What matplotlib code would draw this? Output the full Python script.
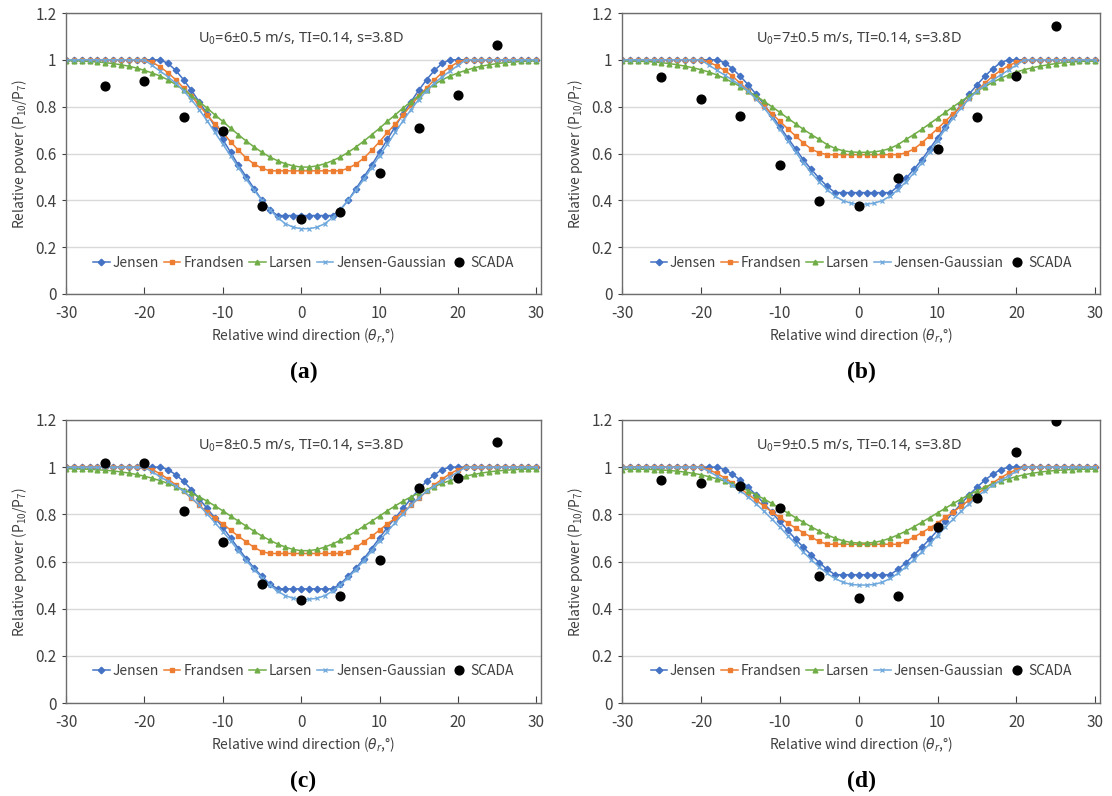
import matplotlib
matplotlib.use('Agg')
import matplotlib.pyplot as plt
from matplotlib.ticker import FormatStrFormatter

plt.rcParams['font.family'] = ['Noto Sans CJK KR', 'DejaVu Sans']
plt.rcParams['mathtext.fontset'] = 'custom'
plt.rcParams['mathtext.rm'] = 'Noto Sans CJK KR'
plt.rcParams['mathtext.it'] = 'DejaVu Sans:italic'
plt.rcParams['axes.unicode_minus'] = False

# relative wind direction (deg), one model point per degree
theta = list(range(-30, 31))
scada_theta = [-25, -20, -15, -10, -5, 0, 5, 10, 15, 20, 25]

# (a) U0 = 6 m/s
jensen_a = [1, 1, 1, 1, 1, 1, 1, 1, 1, 1, 1, 1, 1,
            0.985, 0.955, 0.915, 0.87, 0.82, 0.77, 0.715, 0.66, 0.605, 0.55, 0.50, 0.45, 0.40, 0.36,
            0.335, 0.335, 0.335, 0.335, 0.335, 0.335, 0.335, 0.335,
            0.36, 0.40, 0.45, 0.50, 0.55, 0.605, 0.66, 0.715, 0.77, 0.82, 0.87, 0.915, 0.955, 0.985,
            1, 1, 1, 1, 1, 1, 1, 1, 1, 1, 1, 1]
frandsen_a = [1, 1, 1, 1, 1, 1, 1, 1, 1, 1, 1,
              0.99, 0.97, 0.945, 0.915, 0.88, 0.845, 0.805, 0.765, 0.725, 0.69, 0.65, 0.614, 0.58, 0.555, 0.537,
              0.526, 0.526, 0.526, 0.526, 0.526, 0.526, 0.526, 0.526, 0.526, 0.526,
              0.537, 0.555, 0.58, 0.614, 0.65, 0.69, 0.725, 0.765, 0.805, 0.845, 0.88, 0.915, 0.945, 0.97, 0.99,
              1, 1, 1, 1, 1, 1, 1, 1, 1, 1]
larsen_a = [0.997, 0.996, 0.995, 0.993, 0.991, 0.988, 0.984, 0.979, 0.973, 0.965, 0.955, 0.944, 0.931,
            0.915, 0.895, 0.872, 0.847, 0.821, 0.794, 0.765, 0.737, 0.708, 0.68, 0.653, 0.628, 0.605,
            0.585, 0.569, 0.556, 0.547, 0.542,
            0.542, 0.547, 0.556, 0.569, 0.585, 0.605, 0.628, 0.653, 0.68, 0.708, 0.737, 0.765, 0.794,
            0.821, 0.847, 0.872, 0.895, 0.915, 0.931, 0.944, 0.955, 0.965, 0.973, 0.979, 0.984, 0.988,
            0.991, 0.993, 0.995, 0.996]
jgauss_a = [1, 1, 1, 1, 1, 1, 1, 1, 1, 1, 1,
            0.976, 0.952, 0.928, 0.9, 0.868, 0.83, 0.787, 0.74, 0.69, 0.64, 0.59, 0.54, 0.49, 0.443,
            0.4, 0.36, 0.326, 0.3, 0.285, 0.279,
            0.279, 0.285, 0.3, 0.326, 0.36, 0.4, 0.443, 0.49, 0.54, 0.59, 0.64, 0.69, 0.74, 0.787,
            0.83, 0.868, 0.9, 0.928, 0.952, 0.976,
            1, 1, 1, 1, 1, 1, 1, 1, 1, 1]
scada_a = [0.887, 0.908, 0.758, 0.695, 0.376, 0.322, 0.350, 0.517, 0.709, 0.849, 1.063]

# (b) U0 = 7 m/s
jensen_b = [1, 1, 1, 1, 1, 1, 1, 1, 1, 1, 1, 1, 1,
            0.988, 0.962, 0.93, 0.893, 0.853, 0.81, 0.763, 0.715, 0.667, 0.62, 0.573, 0.532, 0.494, 0.46,
            0.433, 0.433, 0.433, 0.433, 0.433, 0.433, 0.433, 0.433,
            0.46, 0.494, 0.532, 0.573, 0.62, 0.667, 0.715, 0.763, 0.81, 0.853, 0.893, 0.93, 0.962, 0.988,
            1, 1, 1, 1, 1, 1, 1, 1, 1, 1, 1, 1]
frandsen_b = [1, 1, 1, 1, 1, 1, 1, 1, 1, 1, 1,
              0.99, 0.975, 0.955, 0.93, 0.9, 0.868, 0.835, 0.802, 0.77, 0.738, 0.706, 0.675, 0.645, 0.619, 0.603,
              0.595, 0.595, 0.595, 0.595, 0.595, 0.595, 0.595, 0.595, 0.595, 0.595,
              0.603, 0.619, 0.645, 0.675, 0.706, 0.738, 0.77, 0.802, 0.835, 0.868, 0.9, 0.93, 0.955, 0.975, 0.99,
              1, 1, 1, 1, 1, 1, 1, 1, 1, 1]
larsen_b = [0.995, 0.995, 0.994, 0.993, 0.991, 0.988, 0.984, 0.979, 0.973, 0.966, 0.958, 0.948, 0.936,
            0.921, 0.904, 0.886, 0.866, 0.845, 0.823, 0.8, 0.776, 0.751, 0.727, 0.703, 0.681, 0.66,
            0.638, 0.622, 0.612, 0.607, 0.605,
            0.605, 0.607, 0.612, 0.622, 0.638, 0.66, 0.681, 0.703, 0.727, 0.751, 0.776, 0.8, 0.823,
            0.845, 0.866, 0.886, 0.904, 0.921, 0.936, 0.948, 0.958, 0.966, 0.973, 0.979, 0.984, 0.988,
            0.991, 0.993, 0.994, 0.995]
jgauss_b = [1, 1, 1, 1, 1, 1, 1, 1, 1, 1, 1,
            0.978, 0.956, 0.935, 0.914, 0.892, 0.866, 0.833, 0.795, 0.752, 0.705, 0.655, 0.607, 0.56, 0.517,
            0.479, 0.446, 0.418, 0.399, 0.388, 0.384,
            0.384, 0.388, 0.399, 0.418, 0.446, 0.479, 0.517, 0.56, 0.607, 0.655, 0.705, 0.752, 0.795,
            0.833, 0.866, 0.892, 0.914, 0.935, 0.956, 0.978,
            1, 1, 1, 1, 1, 1, 1, 1, 1, 1]
scada_b = [0.928, 0.834, 0.762, 0.549, 0.398, 0.377, 0.494, 0.62, 0.755, 0.929, 1.144]

# (c) U0 = 8 m/s
jensen_c = [1, 1, 1, 1, 1, 1, 1, 1, 1, 1, 1, 1, 1,
            0.99, 0.968, 0.94, 0.905, 0.866, 0.825, 0.785, 0.745, 0.70, 0.655, 0.612, 0.572, 0.537, 0.505,
            0.484, 0.484, 0.484, 0.484, 0.484, 0.484, 0.484, 0.484,
            0.505, 0.537, 0.572, 0.612, 0.655, 0.70, 0.745, 0.785, 0.825, 0.866, 0.905, 0.94, 0.968, 0.99,
            1, 1, 1, 1, 1, 1, 1, 1, 1, 1, 1, 1]
frandsen_c = [1, 1, 1, 1, 1, 1, 1, 1, 1, 1, 1,
              0.99, 0.972, 0.95, 0.925, 0.897, 0.868, 0.838, 0.808, 0.783, 0.76, 0.733, 0.707, 0.683, 0.66, 0.642,
              0.634, 0.634, 0.634, 0.634, 0.634, 0.634, 0.634, 0.634, 0.634, 0.634,
              0.642, 0.66, 0.683, 0.707, 0.733, 0.76, 0.783, 0.808, 0.838, 0.868, 0.897, 0.925, 0.95, 0.972, 0.99,
              1, 1, 1, 1, 1, 1, 1, 1, 1, 1]
larsen_c = [0.993, 0.993, 0.992, 0.991, 0.989, 0.987, 0.984, 0.98, 0.975, 0.969, 0.962, 0.953, 0.943,
            0.931, 0.918, 0.905, 0.89, 0.874, 0.856, 0.836, 0.815, 0.793, 0.771, 0.75, 0.728, 0.708,
            0.69, 0.674, 0.661, 0.651, 0.646,
            0.646, 0.651, 0.661, 0.674, 0.69, 0.708, 0.728, 0.75, 0.771, 0.793, 0.815, 0.836, 0.856,
            0.874, 0.89, 0.905, 0.918, 0.931, 0.943, 0.953, 0.962, 0.969, 0.975, 0.98, 0.984, 0.987,
            0.989, 0.991, 0.992, 0.993]
jgauss_c = [1, 1, 1, 1, 1, 1, 1, 1, 1, 1, 1,
            0.98, 0.96, 0.94, 0.92, 0.898, 0.87, 0.838, 0.802, 0.765, 0.727, 0.688, 0.645, 0.604, 0.566,
            0.531, 0.5, 0.474, 0.455, 0.444, 0.44,
            0.44, 0.444, 0.455, 0.474, 0.5, 0.531, 0.566, 0.604, 0.645, 0.688, 0.727, 0.765, 0.802,
            0.838, 0.87, 0.898, 0.92, 0.94, 0.96, 0.98,
            1, 1, 1, 1, 1, 1, 1, 1, 1, 1]
scada_c = [1.016, 1.019, 0.815, 0.682, 0.504, 0.435, 0.455, 0.607, 0.911, 0.956, 1.108]

# (d) U0 = 9 m/s
jensen_d = [1, 1, 1, 1, 1, 1, 1, 1, 1, 1, 1, 1, 1,
            0.99, 0.97, 0.945, 0.915, 0.882, 0.846, 0.808, 0.77, 0.732, 0.695, 0.66, 0.627, 0.595, 0.567,
            0.544, 0.544, 0.544, 0.544, 0.544, 0.544, 0.544, 0.544,
            0.567, 0.595, 0.627, 0.66, 0.695, 0.732, 0.77, 0.808, 0.846, 0.882, 0.915, 0.945, 0.97, 0.99,
            1, 1, 1, 1, 1, 1, 1, 1, 1, 1, 1, 1]
frandsen_d = [1, 1, 1, 1, 1, 1, 1, 1, 1, 1, 1,
              0.99, 0.974, 0.955, 0.933, 0.91, 0.885, 0.86, 0.835, 0.81, 0.787, 0.763, 0.742, 0.722, 0.703, 0.685,
              0.673, 0.673, 0.673, 0.673, 0.673, 0.673, 0.673, 0.673, 0.673, 0.673,
              0.685, 0.703, 0.722, 0.742, 0.763, 0.787, 0.81, 0.835, 0.86, 0.885, 0.91, 0.933, 0.955, 0.974, 0.99,
              1, 1, 1, 1, 1, 1, 1, 1, 1, 1]
larsen_d = [0.99, 0.991, 0.991, 0.991, 0.99, 0.988, 0.986, 0.983, 0.979, 0.974, 0.968, 0.96, 0.951,
            0.941, 0.929, 0.915, 0.9, 0.883, 0.865, 0.846, 0.826, 0.806, 0.786, 0.766, 0.747, 0.729,
            0.713, 0.699, 0.688, 0.681, 0.678,
            0.678, 0.681, 0.688, 0.699, 0.713, 0.729, 0.747, 0.766, 0.786, 0.806, 0.826, 0.846, 0.865,
            0.883, 0.9, 0.915, 0.929, 0.941, 0.951, 0.96, 0.968, 0.974, 0.979, 0.983, 0.986, 0.988,
            0.99, 0.991, 0.991, 0.992]
jgauss_d = [1, 1, 1, 1, 1, 1, 1, 1, 1, 1, 1,
            0.982, 0.963, 0.944, 0.923, 0.9, 0.874, 0.845, 0.813, 0.78, 0.746, 0.71, 0.675, 0.64, 0.607,
            0.577, 0.55, 0.528, 0.512, 0.503, 0.5,
            0.5, 0.503, 0.512, 0.528, 0.55, 0.577, 0.607, 0.64, 0.675, 0.71, 0.746, 0.78, 0.813,
            0.845, 0.874, 0.9, 0.923, 0.944, 0.963, 0.982,
            1, 1, 1, 1, 1, 1, 1, 1, 1, 1]
scada_d = [0.945, 0.931, 0.92, 0.825, 0.538, 0.446, 0.453, 0.747, 0.87, 1.063, 1.197]

speeds = ['6', '7', '8', '9']
captions = ['a', 'b', 'c', 'd']
jensen = [jensen_a, jensen_b, jensen_c, jensen_d]
frandsen = [frandsen_a, frandsen_b, frandsen_c, frandsen_d]
larsen = [larsen_a, larsen_b, larsen_c, larsen_d]
jgauss = [jgauss_a, jgauss_b, jgauss_c, jgauss_d]
scada = [scada_a, scada_b, scada_c, scada_d]

W, H = 1112, 796
fig = plt.figure(figsize=(W / 100, H / 100), dpi=100)

# axes boxes in pixels: left, top, right, bottom
boxes = [(66, 13, 541, 294), (622, 13, 1100, 294),
         (66, 420, 541, 703), (622, 420, 1100, 703)]

txt = '#404040'
for i, (l, t, r, b) in enumerate(boxes):
    ax = fig.add_axes([l / W, 1 - b / H, (r - l) / W, (b - t) / H])
    ax.plot(theta, jensen[i], '-D', color='#4472C4', lw=1.1, ms=3.3, label='Jensen')
    ax.plot(theta, frandsen[i], '-s', color='#ED7D31', lw=1.1, ms=3.0, label='Frandsen')
    ax.plot(theta, larsen[i], '-^', color='#70AD47', lw=1.1, ms=3.4, label='Larsen')
    ax.plot(theta, jgauss[i], '-x', color='#6FA8DC', lw=1.1, ms=3.4, mew=0.9, label='Jensen-Gaussian')
    ax.plot(scada_theta, scada[i], 'o', color='black', ms=6.3, label='SCADA', zorder=5)

    ax.set_xlim(-30, 30.6)
    ax.set_ylim(0, 1.2)
    ax.set_xticks([-30, -20, -10, 0, 10, 20, 30])
    ax.set_yticks([0, 0.2, 0.4, 0.6, 0.8, 1.0, 1.2])
    ax.yaxis.set_major_formatter(FormatStrFormatter('%g'))
    ax.grid(axis='y', color='#D9D9D9', lw=1)
    ax.set_axisbelow(True)
    for s in ax.spines.values():
        s.set_color('#6d6d6d')
        s.set_linewidth(1)
    ax.tick_params(axis='x', direction='in', length=5, pad=8, labelsize=11, colors=txt)
    ax.tick_params(axis='y', direction='out', length=3, pad=4, labelsize=11, colors=txt)

    ax.set_xlabel(r'Relative wind direction ($\theta_r$,°)', fontsize=10, color=txt)
    ax.xaxis.set_label_coords(0.5, -0.115)
    ax.set_ylabel(r'Relative power (P$_{\mathrm{10}}$/P$_{\mathrm{7}}$)', fontsize=10, color=txt)
    ax.yaxis.set_label_coords(-0.078, 0.5)

    ax.text(0.0, 1.09, 'U$_{\\mathrm{0}}$=' + speeds[i] + '±0.5 m/s, TI=0.14, s=3.8D',
            ha='center', va='center', fontsize=10.5, color=txt,
            family=['Noto Sans', 'DejaVu Sans'])

    ax.legend(loc='center', bbox_to_anchor=(0.5, 0.112), ncol=5, frameon=False,
              fontsize=10, handlelength=1.2, handletextpad=0.2, columnspacing=0.35,
              labelcolor=txt)

    fig.text((l + r) / 2 / W, 1 - (b + 78) / H, '(' + captions[i] + ')',
             ha='center', va='center', fontsize=17, fontweight='bold',
             family='Liberation Serif')

fig.savefig('out.png', dpi=100, facecolor='white')
